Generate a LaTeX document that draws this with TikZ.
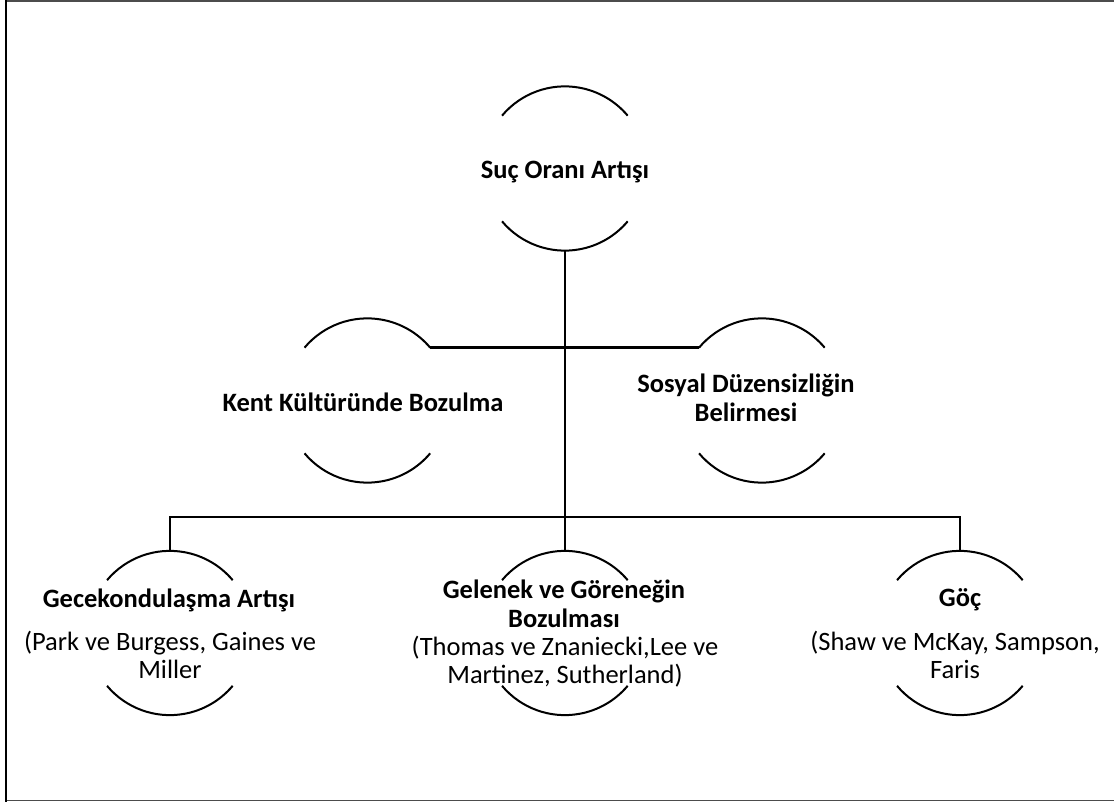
\documentclass[tikz,border=0pt]{standalone}
\usepackage{fontspec}
\setmainfont{Carlito}
\begin{document}
\begin{tikzpicture}[x=1pt,y=-1pt,
  ring/.style={circle,minimum size=164pt,inner sep=0pt},
  arcline/.style={line width=2pt},
  conn/.style={line width=2.6pt},
  title/.style={font=\fontsize{26.5}{29}\selectfont\bfseries,align=center,inner sep=0pt},
  src/.style={font=\fontsize{26.5}{28}\selectfont,align=center,inner sep=0pt}]
\useasboundingbox (0,0) rectangle (1114,802);
% frame
\draw[line width=1.4pt,black!70] (6,1) -- (1114,1);
\draw[line width=1.4pt,black!70] (6,800.5) -- (1114,800.5);
\draw[line width=2.8pt] (6,0) -- (6,802);
% rings
\node[ring] (c1) at (565,168.5) {};
\node[ring] (c2) at (367.5,400.5) {};
\node[ring] (c3) at (762,400.5) {};
\node[ring] (c4) at (170,633) {};
\node[ring] (c5) at (565,633) {};
\node[ring] (c6) at (960,633) {};
\foreach \n in {c1,c2,c3,c4,c5,c6}{
  \draw[arcline] (\n.140) arc[start angle=140,end angle=40,radius=82pt];
  \draw[arcline] (\n.220) arc[start angle=220,end angle=320,radius=82pt];
}
% texts
\node[title] (t1) at (565,172) {Suç Oranı Artışı};
\node[title] (t2) at (363,402) {Kent Kültüründe Bozulma};
\node[title] (t3) at (746,398) {Sosyal Düzensizliğin\\Belirmesi};
\node[title] (t4) at (169,600) {Gecekondulaşma Artışı};
\node[src] (s4) at (170,655) {(Park ve Burgess, Gaines ve\\Miller};
\node[title] (t5) at (564,604) {Gelenek ve Göreneğin\\Bozulması};
\node[src] (s5) at (565,662) {(Thomas ve Znaniecki,Lee ve\\Martinez, Sutherland)};
\node[title] (t6) at (960,600) {Göç};
\node[src] (s6) at (955,655) {(Shaw ve McKay, Sampson,\\Faris};
% connectors
\coordinate (jb) at (565,517);
\draw[conn] (c1.south) -- (c5.north);
\draw[conn] (c2.40) -- (c3.140);
\draw[conn] (c4.north) |- (jb) -| (c6.north);
\end{tikzpicture}
\end{document}
